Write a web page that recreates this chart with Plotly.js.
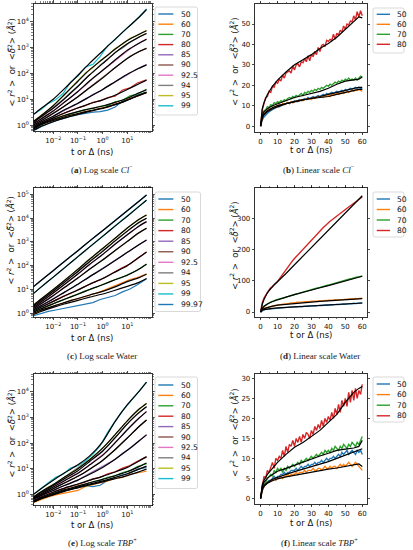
<!DOCTYPE html>
<html><head><meta charset="utf-8">
<script src="https://cdn.plot.ly/plotly-3.0.1.min.js"></script>
<style>html,body{margin:0;padding:0;background:#fff;}#chart{width:413px;height:550px;}</style>
</head><body><div id="chart"></div>
<script>
// ---------- categories / labels ----------
const seriesCl = ['50','60','70','80','85','90','92.5','94','95','99'];
const seriesWater = ['50','60','70','80','85','90','92.5','94','95','99','99.97'];
const seriesTBP = ['50','60','70','80','85','90','92.5','94','95','99'];
const seriesLin = ['50','60','70','80'];
const seriesColors = ['#1f77b4','#ff7f0e','#2ca02c','#d62728','#9467bd','#8c564b','#e377c2','#7f7f7f','#bcbd22','#17becf','#1f77b4'];

// ---------- tick labels ----------
const logXTickVals = [0.01, 0.1, 1, 10];
const logXTickText = ['10<sup>−2</sup>','10<sup>−1</sup>','10<sup>0</sup>','10<sup>1</sup>'];
const logYTickValsA = [1, 10, 100, 1000, 10000];
const logYTickTextA = ['10<sup>0</sup>','10<sup>1</sup>','10<sup>2</sup>','10<sup>3</sup>','10<sup>4</sup>'];
const logYTickValsC = [1, 10, 100, 1000, 10000, 100000];
const logYTickTextC = ['10<sup>0</sup>','10<sup>1</sup>','10<sup>2</sup>','10<sup>3</sup>','10<sup>4</sup>','10<sup>5</sup>'];
const linXTickVals = [0,10,20,30,40,50,60];

// ---------- time axes (ns) ----------
const tLog = [0.0016,0.0032,0.0063,0.0125,0.025,0.05,0.1,0.2,0.4,0.8,1.6,3.2,6.4,12.8,25.6,60];
const tLogFit = [0.0016,0.003,0.01,0.03,0.1,0.3,1,3,10,30,60];
const tLin = [0,1,2,3,4,5,6,7,8,9,10,11,12,13,14,15,16,17,18,19,20,21,22,23,24,25,26,27,28,29,30,31,32,33,34,35,36,37,38,39,40,41,42,43,44,45,46,47,48,49,50,51,52,53,54,55,56,57,58,59,60];
const tLinFit = [0,0.5,1,2,4,7,10,15,20,25,30,35,40,45,50,55,58,60];

// ---------- (a) Cl- log: MSD data ----------
const clLog50 = [0.6,0.87,1.12,1.48,1.78,2.19,2.51,2.88,3.16,3.31,3.8,5.0,8.3,10.7,14.8,18.6];
const clLog60 = [0.68,1.0,1.29,1.7,2.0,2.51,2.75,3.39,3.63,4.57,4.79,6.6,7.6,11.2,13.2,17.8];
const clLog70 = [0.74,1.05,1.41,1.86,2.24,2.82,3.24,3.98,4.37,5.37,5.75,7.94,9.12,13.5,15.8,24.5];
const clLog80 = [0.8,1.12,1.58,2.04,2.82,3.63,4.68,5.6,7.6,8.7,11.7,13.2,22.9,27.5,42.7,56.2];
const clLog85 = [0.89,1.26,1.82,2.5,3.55,5.25,7.2,9.8,15.1,20.4,31.6,46.8,74,105,151,219];
const clLog90 = [1,1.48,2.14,3.3,5,8.1,12.6,21.4,35.5,61.7,95.5,170,275,468,646,955];
const clLog925 = [1.12,1.74,2.75,4.2,7.2,11.5,20.4,33.9,64.6,110,195,324,562,891,1380,2140];
const clLog94 = [1.26,2.04,3.4,5.75,9.5,18.2,31,63,110,214,355,660,977,1620,2290,3630];
const clLog95 = [1.4,2.3,3.8,7.1,13.2,27,52,105,166,316,490,933,1350,2290,2950,4680];
const clLog99 = [2.6,4,6.9,9.5,16.6,46,79,178,224,457,1200,2000,3980,7200,13200,31600];
// (a) fits
const clFit50 = [0.63,0.87,1.35,1.9,2.6,3.4,4.4,6,9.3,14.5,19];
const clFit60 = [0.7,1,1.5,2.1,2.8,3.6,4.6,6.2,9.3,14,18];
const clFit70 = [0.76,1.05,1.66,2.4,3.3,4.3,5.5,7.4,11,17.8,23.5];
const clFit80 = [0.8,1.12,1.9,3,4.6,6.8,9.5,14,24,40,55];
const clFit85 = [0.89,1.26,2.2,4,7,12.6,24,46,93,158,214];
const clFit90 = [1,1.4,2.8,5.6,12.6,28,66,158,380,710,930];
const clFit925 = [1.12,1.66,3.5,8,20,52,132,316,790,1480,2100];
const clFit94 = [1.26,2,4.5,11,32,89,240,600,1400,2600,3550];
const clFit95 = [1.4,2.2,5.6,16,50,140,355,830,1900,3300,4500];
const clFit99 = [2.6,4.2,10,27,85,250,740,2000,5800,15000,30000];

// ---------- (c) Water log ----------
const waLog50 = [0.79,1.0,1.2,1.38,1.58,1.82,2.14,2.4,2.82,3.8,4.57,5.62,7.94,10.5,15.8,28.2];
const waLog60 = [0.95,1.32,1.66,2.19,2.63,3.47,4.07,5.25,6.31,7.94,10.7,14.1,20,26.3,31.6,45.7];
const waLog70 = [1.12,1.55,2.04,2.82,3.63,4.9,6.17,8.71,11,14.8,18.6,26.3,33.1,46.8,64.6,117];
const waLog80 = [1.26,1.82,2.57,3.47,5.13,6.76,9.77,13.2,19.5,25.1,38,53.7,83.2,117,204,372];
const waLog85 = [1.41,2.09,3.09,4.57,7.08,10.7,16.6,26.3,41.7,64.6,102,166,269,437,692,1200];
const waLog90 = [1.58,2.51,3.98,6.61,11,18.2,30.2,52.5,89.1,148,251,437,741,1290,2140,3720];
const waLog925 = [1.78,2.95,5.01,8.51,14.8,25.7,44.7,81.3,141,245,437,813,1380,2450,4070,7080];
const waLog94 = [2,3.47,5.89,10.2,17.8,31.6,57.5,105,191,331,603,1120,1950,3470,5750,9770];
const waLog95 = [2.24,4.07,6.92,12,21.4,38.9,70.8,132,240,437,776,1450,2570,4680,7760,13500];
const waLog99 = [6.9,12.6,22.4,40.7,74.1,132,240,437,776,1410,2570,4680,8510,15100,27500,57500];
const waLog9997 = [13.2,24.5,42.7,75.9,135,240,427,776,1380,2450,4370,7940,14100,25100,44700,93300];
const waFit50 = [0.89,1.17,1.78,2.51,3.47,4.79,6.46,9.12,13.5,20,28.8];
const waFit60 = [1,1.32,2,2.88,4.17,5.89,8.32,12.6,21.4,31.6,43.7];
const waFit70 = [1.12,1.51,2.51,3.98,6.31,10,15.8,25.1,39.8,72.4,115];
const waFit80 = [1.26,1.74,3.16,5.5,9.55,16.6,28.8,52.5,100,224,372];
const waFit85 = [1.41,2,3.98,7.94,16.6,34.7,74.1,158,363,776,1200];
const waFit90 = [1.58,2.4,5.5,12.6,30.2,72.4,174,417,1050,2450,3720];
const waFit925 = [1.78,2.82,7.08,17,44.7,115,295,759,2000,4680,7080];
const waFit94 = [2,3.31,8.5,20.9,57.5,151,398,1050,2820,6610,9770];
const waFit95 = [2.24,3.8,10,25.1,70.8,190,525,1350,3800,8910,13500];
const waFit99 = [6.9,12,33,85,240,617,1700,4370,12000,30900,56200];
const waFit9997 = [13.2,22.9,61.7,158,427,1100,2950,7400,20400,51300,93300];

// ---------- (e) TBP+ log ----------
const tbLog50 = [0.5,0.68,0.85,1.07,1.29,1.55,1.86,2.19,2.0,2.24,3.55,4.47,5.75,6.61,9.55,11.2];
const tbLog60 = [0.48,0.63,0.79,0.95,1.1,1.2,1.41,2.0,2.4,2.95,3.31,4.27,4.57,6.03,6.92,7.94];
const tbLog70 = [0.52,0.72,0.93,1.15,1.45,1.7,2.14,2.45,3.09,3.55,4.57,5.25,7.08,8.32,12,15.8];
const tbLog80 = [0.56,0.78,1.02,1.32,1.62,2.09,2.57,3.02,3.98,4.57,6.31,7.59,10.5,13.2,19.5,28.2];
const tbLog85 = [0.63,0.87,1.17,1.58,2.09,2.75,3.63,5.25,7.59,11,15.8,22.9,39.8,61.7,110,214];
const tbLog90 = [0.66,0.95,1.35,1.86,2.63,3.55,5.13,7.41,11.7,17.8,31.6,55,107,195,389,794];
const tbLog925 = [0.71,1.05,1.51,2.14,3.16,4.68,6.76,10.5,17.8,28.8,50.1,105,204,437,794,1740];
const tbLog94 = [0.76,1.2,1.78,2.63,4.17,6.92,11.2,17.8,25.1,41.7,75.9,166,339,724,1320,2690];
const tbLog95 = [0.79,1.26,1.9,2.7,4.3,6.6,9.8,17,28,52,100,218,450,960,1800,3600];
const tbLog99 = [1,1.74,2.82,4.57,6.03,10.5,13.2,20,36.3,79.4,263,724,1820,3980,8910,24000];
const tbFit50 = [0.5,0.66,0.98,1.38,1.91,2.51,3.31,4.47,6.31,9.55,12.6];
const tbFit60 = [0.5,0.66,0.95,1.32,1.78,2.34,3.02,3.98,5.37,7.59,9.55];
const tbFit70 = [0.52,0.71,1.07,1.51,2.09,2.82,3.8,5.25,7.59,12,16.6];
const tbFit80 = [0.56,0.76,1.2,1.78,2.51,3.55,5.01,7.24,11.2,20,29.5];
const tbFit85 = [0.63,0.85,1.41,2.24,3.55,6.03,11.2,22.4,52.5,120,209];
const tbFit90 = [0.66,0.91,1.66,2.82,5.01,9.55,20.9,52.5,158,447,794];
const tbFit925 = [0.71,1,1.91,3.47,6.61,14.1,33.1,95.5,331,955,1700];
const tbFit94 = [0.76,1.12,2.19,4.17,8.32,19.1,47.9,151,562,1580,2630];
const tbFit95 = [0.79,1.2,2.4,4.79,10,22.4,63.1,200,741,2140,3550];
const tbFit99 = [1,1.58,3.55,7.08,14.1,31.6,112,631,3160,10500,24000];

// ---------- (b) Cl- linear ----------
const clLin50 = [0,3,4.5,5.5,6,7,7.5,8,8.5,9, 9.5,9.5,10,10.5,10.5,11,11.5,11,12,11.5, 12.5,12,12.5,13,12.5,13,13.5,13,14,13.5, 14,14.5,14,14.5,15,14.5,15,15.5,15,16, 15.5,16,16.5,16,16.5,17,16.5,17,17.5,17, 18,17.5,18,18.5,18,18.5,19,18.5,19,18.5, 18];
const clLin60 = [0,4.5,6,7,7.5,8.5,8,9,9.5,9, 10,10.5,10,11,10.5,11,11.5,11,12,11.5, 12,12.5,12,12.5,13,12.5,13,13.5,13,13.5, 13,14,13.5,14,14.5,14,14.5,14,15,14.5, 15,14.5,15.5,15,15.5,16,15.5,16,16.5,16, 16.5,17,16.5,17,17.5,17,18,17.5,18,17.5, 17];
const clLin70 = [0,6,7.5,8,9.5,9,10.5,10,11.5,11, 12,11.5,12.5,12,13,12.5,13.5,14,13.5,14.5, 14,15,14.5,15.5,16,15,16.5,16,17,16.5, 17.5,17,18,17.5,18.5,18,19,18.5,19.5,20, 19.5,20.5,20,21,21.5,21,22,21.5,22.5,22, 23,22.5,23.5,22.5,23,22.5,23.5,22.5,23.5,24.5, 24];
const clLin80 = [0,8,11,14,14.5,17,16.5,19.5,19,21.5, 21,23,22,25,23.5,26,26.5,27,26,29.5, 27.5,30,30.5,29,31.5,31,33,31.5,34.5,32, 35,34,36.5,35,38.5,36.5,39.5,40,39,42, 41.5,42.5,42,45,42.5,45.5,44.5,47,46,49, 47.5,50,49.5,51.5,51,54,52,56,53.5,56.5, 54];
const clLinFit50 = [0,3,4,5.5,7,8.5,9.5,11,12,12.8,13.5,14.5,15.5,16.5,17.5,18.5,19,19];
const clLinFit60 = [0,3.5,4.5,6,7.5,9,10,11,12,12.8,13.5,14,14.5,15.5,16.5,17.5,18,18];
const clLinFit70 = [0,4.5,5.5,7,8.5,10,11,12.5,14,15,16,17,18.5,20.5,22,22.5,23,24];
const clLinFit80 = [0,6,8.5,11.5,15.5,19.5,22.5,26.5,30,32.5,35,38,40.5,43.5,47.5,51.5,53.5,53];

// ---------- (d) Water linear ----------
const waLin50 = [0,5,7,8.5,9,10.5,10.5,12,11.5,13, 12.5,14,13.5,14.5,14,15.5,14.5,16,15.5,16.5, 16,17.5,16.5,18,17,18.5,18,19,18.5,19.5, 19,20.5,19.5,21,20,21.5,21,22,21.5,22.5, 22,23.5,22.5,24,23,24.5,24,25,24.5,26, 25,26.5,26,27,26.5,28,27,28.5,28,29, 29];
const waLin60 = [0,8,11.5,13,15.5,16.5,18.5,19,20.5,21, 22.5,23,24.5,24,26,25.5,27.5,28,29.5,29, 31,30.5,32,31.5,32.5,32,33.5,33,34,33.5, 35,34.5,35.5,35,36,35.5,36.5,36,37.5,36.5, 38,37.5,38.5,38,39.5,38.5,40,39.5,40.5,40, 41.5,40.5,42,41.5,42.5,42,43.5,42.5,44,43.5, 44.5];
const waLin70 = [0,13,19,23,25,29,32,33,36,39, 40,42,43,45,46,48,50,51,53,55, 56,58,59,61,63,64,66,67,69,70, 72,73,75,76,78,79,81,82,84,85, 87,88,90,91,93,95,96,98,99,101, 102,104,105,107,108,110,111,113,113,115, 116];
const waLin80 = [0,30,45,55,64,71,78,81,88,92, 98,106,114,122,130,138,145,152,159,166, 172,178,184,190,197,203,209,214,220,226, 232,238,244,249,255,261,267,272,277,283, 287,292,296,301,305,309,313,317,322,326, 330,334,338,342,346,350,354,358,361,366, 370];
const waLinFit50 = [0,4,6,8,10,12,13.5,15,16.5,18,19.5,21,22.5,24,25.5,27,28.2,29];
const waLinFit60 = [0,5,8,11,15,19,22,25,28,30,32,34,35.5,37,39,41,42,43];
const waLinFit70 = [0,8,12,18,26,34,40,48,56,64,71,78,85,93,101,108,112,115];
const waLinFit80 = [0,15,25,40,62,82,97,124,152,180,208,235,263,291,319,346,363,374];

// ---------- (f) TBP+ linear ----------
const tbLin50 = [0,2,3,3.5,4,4.5,4.5,5,5.5,5, 5.5,5.5,6,6,6.5,6,6.5,6.5,7,7, 7,7.5,7,7.5,8,7.5,8,8,8.5,8, 8.5,8.5,9,8.5,9,9,9.5,9,9.5,10, 9.5,10,10,10.5,10,10.5,11,10.5,11.5,11, 11.5,12,11,11.5,12,11.5,11,12,11.5,12, 11];
const tbLin60 = [0,2,3,3.5,4,4,4.5,4.5,5,4.5, 5,5,5.5,5,5.5,5.5,6,5.5,6,6, 6,6.5,6,6.5,6.5,6.5,7,6.5,7,7, 7,7.5,7,7,7.5,7.5,7,7.5,8,7.5, 7.5,8,7.5,8,8,7.5,8,8.5,8,8.5, 8,8.5,9,8.5,8,8.5,9,8.5,8,7.5, 7];
const tbLin70 = [0,2.5,3.5,4,5,5.5,6,5.5,7,6.5, 7.5,7,7.5,6.5,7.5,7,8,7.5,8,8.5, 8,8.5,9,8.5,9.5,9,9.5,10,9.5,10, 10.5,10,10.5,11,10.5,11,11.5,11,12,11.5, 12,11.5,12.5,12,13,12.5,12,13,12.5,13.5, 13,12.5,13.5,13,14,13.5,13,14,13.5,14.5, 15.5];
const tbLin80 = [0,3.5,5.5,5,7,6.5,8,9,7.5,10, 9.5,10.5,10,12,10.5,13,11.5,13.5,13,14.5, 13,15,14,15.5,14,16,15,16.5,16,15, 17,16,18,17,18.5,17.5,19.5,18,20,19, 20.5,19.5,21.5,20,22.5,21,23.5,21.5,24.5,23, 25,23,26.5,24,27,24.5,27.5,25,27,26, 28.5];
const tbLinFit50 = [0,1.8,2.5,3.2,4,4.8,5.3,6,6.7,7.3,7.9,8.5,9.2,10,10.8,11.6,12.2,12.4];
const tbLinFit60 = [0,1.5,2.2,3,3.8,4.4,4.9,5.4,5.8,6.2,6.6,7,7.3,7.6,8,8.4,8.6,8];
const tbLinFit70 = [0,2,3,4,5,6,6.8,7.5,8.3,9.1,9.9,10.6,11.3,12,12.3,12.6,13,14.5];
const tbLinFit80 = [0,2.5,3.5,4.5,6,7.5,9,11,12.8,14,15.5,17,19,21,24,26.5,27.5,28];

// ---------- build ----------
const W = 413, H = 550;
const fx = x => x / W;
const fy = y => 1 - y / H;
const traces = [], shapes = [], annotations = [];

function addPanel(p, tData, dataArrs, tFit, fitArrs, names, isLog) {
  const xa = p === 1 ? 'x' : 'x' + p, ya = p === 1 ? 'y' : 'y' + p;
  dataArrs.forEach((arr, i) => traces.push({
    type: 'scatter', mode: 'lines', x: tData, y: arr, xaxis: xa, yaxis: ya,
    name: names[i], line: {color: seriesColors[i], width: isLog ? 1.2 : 1.4}, showlegend: false, hoverinfo: 'skip'
  }));
  fitArrs.forEach((arr, i) => traces.push({
    type: 'scatter', mode: 'lines', x: tFit, y: arr, xaxis: xa, yaxis: ya,
    name: names[i] + ' fit', line: {color: '#000', width: 1.2, shape: isLog ? 'spline' : 'linear', smoothing: 0.5},
    showlegend: false, hoverinfo: 'skip'
  }));
}

addPanel(1, tLog, [clLog50,clLog60,clLog70,clLog80,clLog85,clLog90,clLog925,clLog94,clLog95,clLog99],
  tLogFit, [clFit50,clFit60,clFit70,clFit80,clFit85,clFit90,clFit925,clFit94,clFit95,clFit99], seriesCl, true);
addPanel(2, tLin, [clLin50,clLin60,clLin70,clLin80], tLinFit, [clLinFit50,clLinFit60,clLinFit70,clLinFit80], seriesLin, false);
addPanel(3, tLog, [waLog50,waLog60,waLog70,waLog80,waLog85,waLog90,waLog925,waLog94,waLog95,waLog99,waLog9997],
  tLogFit, [waFit50,waFit60,waFit70,waFit80,waFit85,waFit90,waFit925,waFit94,waFit95,waFit99,waFit9997], seriesWater, true);
addPanel(4, tLin, [waLin50,waLin60,waLin70,waLin80], tLinFit, [waLinFit50,waLinFit60,waLinFit70,waLinFit80], seriesLin, false);
addPanel(5, tLog, [tbLog50,tbLog60,tbLog70,tbLog80,tbLog85,tbLog90,tbLog925,tbLog94,tbLog95,tbLog99],
  tLogFit, [tbFit50,tbFit60,tbFit70,tbFit80,tbFit85,tbFit90,tbFit925,tbFit94,tbFit95,tbFit99], seriesTBP, true);
addPanel(6, tLin, [tbLin50,tbLin60,tbLin70,tbLin80], tLinFit, [tbLinFit50,tbLinFit60,tbLinFit70,tbLinFit80], seriesLin, false);

// minor tick positions for log axes
const logMinor = [];
for (let e = -3; e <= 5; e++) for (let k = 2; k <= 9; k++) logMinor.push(k * Math.pow(10, e));

const base = {
  showline: true, linecolor: '#000', linewidth: 0.8, mirror: 'ticks',
  ticks: 'outside', ticklen: 2.5, tickwidth: 0.7, tickcolor: '#000',
  showgrid: false, zeroline: false, automargin: false, fixedrange: true,
  tickfont: {family: 'DejaVu Sans, sans-serif', size: 7, color: '#111'}
};
const logMinorSpec = {tickvals: logMinor, ticks: 'outside', ticklen: 1.4, tickwidth: 0.5, tickcolor: '#000', showgrid: false};
const linMinorSpec = {dtick: 5, ticks: 'outside', ticklen: 1.4, tickwidth: 0.5, tickcolor: '#000', showgrid: false};

const dxL = [fx(33.5), fx(152)], dxR = [fx(255), fx(367)];
function logX(anchor) { return Object.assign({}, base, {type: 'log', range: [-2.8, 2.0], tickmode: 'array', tickvals: logXTickVals, ticktext: logXTickText, minor: logMinorSpec, domain: dxL, anchor: anchor}); }
function linX(anchor) { return Object.assign({}, base, {type: 'linear', range: [-3.3, 62.8], tickmode: 'array', tickvals: linXTickVals, minor: linMinorSpec, domain: dxR, anchor: anchor}); }

const layout = {
  width: W, height: H, margin: {l: 0, r: 0, t: 0, b: 0},
  paper_bgcolor: '#fff', plot_bgcolor: '#fff', showlegend: false,
  font: {family: 'DejaVu Sans, sans-serif', color: '#111'},
  xaxis: logX('y'),
  yaxis: Object.assign({}, base, {type: 'log', range: [-0.23, 4.71], tickmode: 'array', tickvals: logYTickValsA, ticktext: logYTickTextA, minor: logMinorSpec, domain: [fy(131), fy(3.5)], anchor: 'x'}),
  xaxis2: linX('y2'),
  yaxis2: Object.assign({}, base, {range: [-2.9, 59.8], dtick: 10, tick0: 0, domain: [fy(132), fy(4)], anchor: 'x2'}),
  xaxis3: logX('y3'),
  yaxis3: Object.assign({}, base, {type: 'log', range: [-0.155, 5.25], tickmode: 'array', tickvals: logYTickValsC, ticktext: logYTickTextC, minor: logMinorSpec, domain: [fy(317), fy(188.3)], anchor: 'x3'}),
  xaxis4: linX('y4'),
  yaxis4: Object.assign({}, base, {range: [-16, 398], dtick: 100, tick0: 0, domain: [fy(317), fy(188.3)], anchor: 'x4'}),
  xaxis5: logX('y5'),
  yaxis5: Object.assign({}, base, {type: 'log', range: [-0.44, 4.7], tickmode: 'array', tickvals: logYTickValsA, ticktext: logYTickTextA, minor: logMinorSpec, domain: [fy(505.5), fy(374)], anchor: 'x5'}),
  xaxis6: linX('y6'),
  yaxis6: Object.assign({}, base, {range: [-1.4, 31.1], dtick: 5, tick0: 0, domain: [fy(504), fy(374)], anchor: 'x6'}),
  shapes: shapes, annotations: annotations
};

// ---------- legends (drawn as shapes + text) ----------
function roundRect(x0, y0, x1, y1, r) {
  const P = (x, y) => fx(x) + ',' + fy(y);
  return 'M' + P(x0 + r, y0) + ' L' + P(x1 - r, y0) + ' Q' + P(x1, y0) + ' ' + P(x1, y0 + r) +
    ' L' + P(x1, y1 - r) + ' Q' + P(x1, y1) + ' ' + P(x1 - r, y1) +
    ' L' + P(x0 + r, y1) + ' Q' + P(x0, y1) + ' ' + P(x0, y1 - r) +
    ' L' + P(x0, y0 + r) + ' Q' + P(x0, y0) + ' ' + P(x0 + r, y0) + ' Z';
}
function addLegend(names, box, firstY, step, lx0, lx1, tx) {
  shapes.push({type: 'path', xref: 'paper', yref: 'paper', path: roundRect(box[0], box[1], box[2], box[3], 2),
    line: {color: '#cfcfcf', width: 0.8}, fillcolor: 'rgba(255,255,255,0.85)', layer: 'above'});
  names.forEach((n, i) => {
    const y = firstY + i * step;
    shapes.push({type: 'line', xref: 'paper', yref: 'paper', x0: fx(lx0), x1: fx(lx1), y0: fy(y), y1: fy(y),
      line: {color: seriesColors[i], width: 1.4}, layer: 'above'});
    annotations.push({xref: 'paper', yref: 'paper', x: fx(tx), y: fy(y), xanchor: 'left', yanchor: 'middle',
      text: n, showarrow: false, font: {family: 'DejaVu Sans, sans-serif', size: 7.6, color: '#111'}});
  });
}
addLegend(seriesCl, [155, 7, 197.5, 115], 14, 10.2, 158.3, 173.3, 178.5);
addLegend(seriesLin, [373, 8, 404, 53], 14.3, 10, 376.7, 390, 394.5);
addLegend(seriesWater, [155, 192, 200.5, 311.5], 199, 10.55, 158.3, 173.3, 178.5);
addLegend(seriesLin, [373, 192, 404, 237], 199, 10.5, 376.7, 390, 394.5);
addLegend(seriesTBP, [155, 377, 197.5, 488.5], 385, 10.4, 158.3, 173.3, 178.5);
addLegend(seriesLin, [373, 377, 404, 422], 384, 10.6, 376.7, 390, 394.5);

// ---------- axis titles and captions ----------
const yTitle = '&lt; <i>r</i><sup>2</sup> &gt;  or  &lt;<i>δ̃</i><sup>2</sup>&gt; (<i>Å</i><sup>2</sup>)';
const xTitle = 't or Δ (ns)';
function txt(x, y, text, opts) {
  annotations.push(Object.assign({xref: 'paper', yref: 'paper', x: fx(x), y: fy(y), xanchor: 'center', yanchor: 'middle',
    text: text, showarrow: false, font: {family: 'DejaVu Sans, sans-serif', size: 8.5, color: '#111'}}, opts || {}));
}
[[92, 152], [311, 150.3], [92, 338], [311, 335.3], [92, 524.5], [311, 522.5]].forEach(p => txt(p[0], p[1], xTitle));
[[11.7, 62], [234, 62], [10.8, 240], [234, 246], [11.7, 433], [234, 433]].forEach(p => txt(p[0], p[1], yTitle, {textangle: -90}));
const capFont = {family: 'Liberation Serif, serif', size: 9, color: '#222'};
txt(101.7, 169.3, '(<b>a</b>) Log scale <i>Cl</i><sup>−</sup>', {font: capFont});
txt(319, 169.3, '(<b>b</b>) Linear scale <i>Cl</i><sup>−</sup>', {font: capFont});
txt(101.7, 355.7, '(<b>c</b>) Log scale Water', {font: capFont});
txt(319.5, 355.7, '(<b>d</b>) Linear scale Water', {font: capFont});
txt(102.5, 541.7, '(<b>e</b>) Log scale <i>TBP</i><sup>+</sup>', {font: capFont});
txt(319, 541.7, '(<b>f</b>) Linear scale <i>TBP</i><sup>+</sup>', {font: capFont});

Plotly.newPlot('chart', traces, layout, {staticPlot: true, displayModeBar: false});
</script></body></html>
